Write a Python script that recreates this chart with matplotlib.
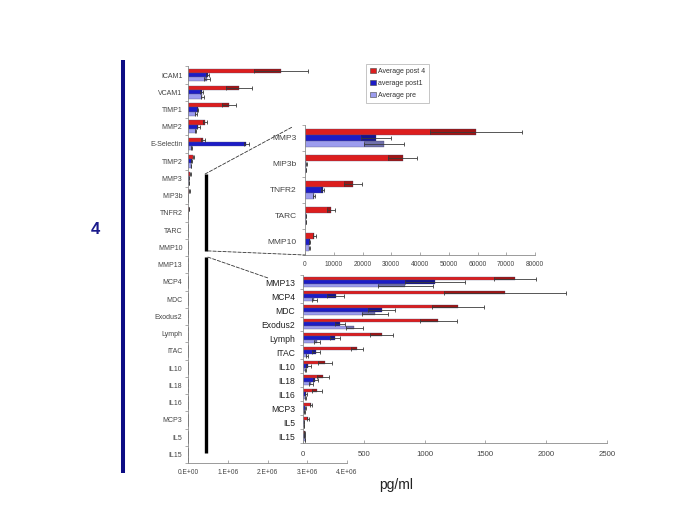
import numpy as np
import matplotlib
matplotlib.use("Agg")
import matplotlib.pyplot as plt
from matplotlib.patches import Patch, ConnectionPatch
from matplotlib.lines import Line2D

plt.rcParams['font.family'] = ['Liberation Sans', 'DejaVu Sans']

# data (pg/ml)
cytokines = ['ICAM1', 'VCAM1', 'TIMP1', 'MMP2', 'E-Selectin', 'TIMP2', 'MMP3', 'MIP3b',
             'TNFR2', 'TARC', 'MMP10', 'MMP13', 'MCP4', 'MDC', 'Exodus2', 'Lymph', 'ITAC',
             'IL10', 'IL18', 'IL16', 'MCP3', 'IL5', 'IL15']
post4 = [2.33e6, 1.28e6, 1.03e6, 0.42e6, 0.38e6, 0.13e6, 59500, 34000, 16600, 8900, 3200,
         1745, 1663, 1278, 1113, 646, 440, 180, 165, 110, 63, 41, 12]
post4_err = [0.68e6, 0.33e6, 0.17e6, 0.05e6, 0.045e6, 0.01e6, 16000, 5000, 3100, 1400, 500,
             175, 500, 215, 155, 95, 50, 55, 50, 40, 10, 8, 3]
post1 = [0.50e6, 0.34e6, 0.24e6, 0.26e6, 1.47e6, 0.09e6, 24700, 500, 6100, 400, 1700,
         1085, 267, 646, 302, 261, 105, 40, 100, 25, 15, 6, 10]
post1_err = [0.04e6, 0.03e6, 0.02e6, 0.03e6, 0.06e6, 0.01e6, 5300, 150, 500, 100, 200,
             245, 72, 110, 40, 40, 30, 20, 20, 8, 5, 2, 3]
pre = [0.48e6, 0.36e6, 0.20e6, 0.19e6, 0.09e6, 0.075e6, 27500, 300, 3200, 300, 1500,
       840, 90, 590, 421, 110, 28, 15, 65, 15, 10, 3, 14]
pre_err = [0.08e6, 0.03e6, 0.02e6, 0.02e6, 0.01e6, 0.005e6, 7000, 80, 400, 60, 150,
           225, 20, 110, 70, 25, 8, 5, 15, 5, 3, 1, 4]

series_names = ['Average post 4', 'average post1', 'Average pre']
main_ticks = [0, 1e6, 2e6, 3e6, 4e6]
main_ticklabels = ['0.E+00', '1.E+06', '2.E+06', '3.E+06', '4.E+06']
top_ticks = list(range(0, 80001, 10000))
low_ticks = list(range(0, 2501, 500))
top_idx = list(range(6, 11))
low_idx = list(range(11, 23))

RED, BLUE, LIGHT = '#dc1e1e', '#1c1cc6', '#9c9cee'
series = [(post4, post4_err, RED), (post1, post1_err, BLUE), (pre, pre_err, LIGHT)]
TXT = '#333333'
SPINE = '#8a8a8a'

W, H = 685, 513
fig = plt.figure(figsize=(W / 100, H / 100), dpi=100)


def box(left, top, right, bottom):
    return [left / W, 1 - bottom / H, (right - left) / W, (bottom - top) / H]


def draw_bars(ax, idx, width, labelsize, labelcolor, pad):
    y = np.arange(len(idx))
    for k, (vals, errs, col) in enumerate(series):
        v = np.array([vals[i] for i in idx])
        e = np.array([errs[i] for i in idx])
        yy = y + (k - 1) * width
        ax.barh(yy, v, height=width, color=col, edgecolor='#55557a', linewidth=0.25)
        lo = np.clip(v - e, 0, None)
        ax.barh(yy, v - lo, left=lo, height=width, color='black', alpha=0.27, linewidth=0)
        ax.errorbar(v, yy, xerr=e, fmt='none', ecolor='#3a3a3a', elinewidth=0.6,
                    capsize=1.6, capthick=0.6)
    ax.set_ylim(len(idx) - 0.5, -0.5)
    ax.set_yticks(y)
    ax.set_yticklabels([cytokines[i] for i in idx], fontsize=labelsize, color=labelcolor)
    ax.set_yticks(np.arange(len(idx) + 1) - 0.5, minor=True)
    ax.tick_params(axis='y', which='major', length=0, pad=pad)
    ax.tick_params(axis='y', which='minor', length=2.5, direction='out', color=SPINE, width=0.5)
    ax.tick_params(axis='x', direction='in', length=2.5, color=SPINE, width=0.5, colors=TXT,
                   pad=4)
    for s in ['top', 'right']:
        ax.spines[s].set_visible(False)
    for s in ['left', 'bottom']:
        ax.spines[s].set_color(SPINE)
        ax.spines[s].set_linewidth(0.6)
    ax.set_facecolor('none')


# main chart
ax = fig.add_axes(box(188, 66.4, 347, 463))
draw_bars(ax, list(range(len(cytokines))), 0.25, 5, '#444444', 4)
ax.set_xlim(0, 4e6)
ax.set_xticks(main_ticks)
ax.set_xticklabels(main_ticklabels, fontsize=4.8, color='#444444')

# brackets for the zoomed ranges
ax.plot([0.45e6, 0.45e6], [5.74, 10.2], color='black', lw=2.4, solid_capstyle='butt')
ax.plot([0.45e6, 0.45e6], [10.56, 21.92], color='black', lw=2.4, solid_capstyle='butt')

# top inset
ax_top = fig.add_axes(box(305, 125, 535, 255))
draw_bars(ax_top, top_idx, 0.22, 6, '#444444', 6)
ax_top.set_xlim(0, 80000)
ax_top.set_xticks(top_ticks)
ax_top.set_xticklabels([str(t) for t in top_ticks], fontsize=4.8, color='#444444')

# lower inset
ax_low = fig.add_axes(box(303.3, 275, 606.7, 443))
draw_bars(ax_low, low_idx, 0.25, 6.2, '#222222', 6)
ax_low.set_xlim(0, 2500)
ax_low.set_xticks(low_ticks)
ax_low.set_xticklabels([str(t) for t in low_ticks], fontsize=5.6, color='#444444')
ax_low.tick_params(axis='x', pad=6)

# dashed connectors
for xyA, xyB, axB in [((0.43e6, 5.74), (-0.055, 0.985), ax_top),
                      ((0.5e6, 10.2), (0.0, 0.0), ax_top),
                      ((0.5e6, 10.56), (-0.116, 0.982), ax_low)]:
    con = ConnectionPatch(xyA=xyA, coordsA=ax.transData, xyB=xyB, coordsB=axB.transAxes,
                          linestyle=(0, (4, 2)), linewidth=0.6, color='#333333')
    fig.add_artist(con)

# legend
handles = [Patch(facecolor=c, edgecolor='#444444', linewidth=0.4) for _, _, c in series]
leg = fig.legend(handles, series_names, loc='upper left', bbox_to_anchor=(366 / W, 1 - 64 / H),
                 fontsize=5, frameon=True, fancybox=False, handlelength=0.8, handleheight=0.8,
                 handletextpad=0.3, labelspacing=0.7, borderpad=0.6, borderaxespad=0)
leg.get_frame().set_edgecolor('#999999')
leg.get_frame().set_linewidth(0.5)
for t in leg.get_texts():
    t.set_color(TXT)

# unit label, panel number and side bar
fig.text(396 / W, 1 - 485 / H, 'pg/ml', fontsize=10, color='#222222', ha='center', va='center')
fig.text(95 / W, 1 - 230 / H, '4', fontsize=12, fontweight='bold', color='#1a1a8c',
         ha='center', va='center')
fig.add_artist(Line2D([123 / W, 123 / W], [1 - 60 / H, 1 - 473 / H], transform=fig.transFigure,
                      color='#0c0c84', lw=2.9, solid_capstyle='butt'))

fig.savefig('out.png', dpi=100)
